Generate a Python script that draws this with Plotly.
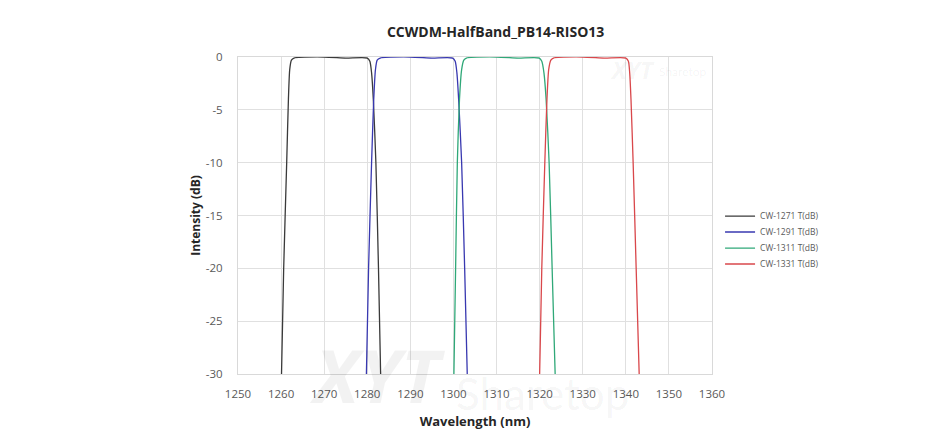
import plotly.graph_objects as go

# wavelength (nm) / transmission (dB)
names = ["CW-1271 T(dB)", "CW-1291 T(dB)", "CW-1311 T(dB)", "CW-1331 T(dB)"]
colors = ["#3a3a3a", "#3838b0", "#2fa878", "#d9474b"]

wl_1271 = [1260.1, 1260.6, 1261.3, 1261.7, 1262.0, 1262.4, 1263.0, 1270.0, 1275.0, 1280.0,
           1280.6, 1281.0, 1281.4, 1282.0, 1282.6, 1283.1]
db_1271 = [-30, -20, -10, -4, -1.2, -0.3, -0.1, 0, -0.1, -0.1, -0.4, -1.5, -4, -10, -20, -30]

wl_1291 = [1279.8, 1280.3, 1281.0, 1281.5, 1281.9, 1282.3, 1283.0, 1290.0, 1295.0, 1299.8,
           1300.4, 1300.8, 1301.2, 1301.9, 1302.6, 1303.2]
db_1291 = [-30, -20, -10, -4, -1.2, -0.3, -0.1, 0, -0.1, -0.1, -0.4, -1.5, -4, -10, -20, -30]

wl_1311 = [1300.1, 1300.5, 1300.9, 1301.4, 1301.9, 1302.4, 1303.0, 1310.0, 1315.0, 1319.9,
           1320.5, 1321.0, 1321.5, 1322.2, 1322.9, 1323.6]
db_1311 = [-30, -20, -10, -4, -1.2, -0.3, -0.1, 0, -0.1, -0.1, -0.4, -1.5, -4, -10, -20, -30]

wl_1331 = [1320.0, 1320.5, 1321.2, 1321.7, 1322.1, 1322.6, 1323.2, 1330.0, 1335.0, 1340.0,
           1340.6, 1340.9, 1341.2, 1341.7, 1342.4, 1343.1]
db_1331 = [-30, -20, -10, -4, -1.2, -0.3, -0.1, 0, -0.1, -0.1, -0.4, -1.5, -4, -10, -20, -30]

series = [(wl_1271, db_1271), (wl_1291, db_1291), (wl_1311, db_1311), (wl_1331, db_1331)]

y_ticks = [0, -5, -10, -15, -20, -25, -30]
y_labels = ["0", "-5", "-10", "-15", "-20", "-25", "-30"]
x_ticks = list(range(1250, 1361, 10))

# one legend per trace so the rows can sit as close as in the original
legend_ids = ["legend", "legend2", "legend3", "legend4"]
legend_y = [0.498, 0.448, 0.397, 0.347]

fig = go.Figure()
for (x, y), name, c, lg in zip(series, names, colors, legend_ids):
    fig.add_trace(go.Scatter(x=x, y=y, name=name, mode="lines", legend=lg,
                             line=dict(color=c, width=1.3, shape="spline", smoothing=0.6)))

legend_style = dict(x=1.017, xanchor="left", yanchor="middle",
                    font=dict(size=8.5, color="#595959"), bgcolor="rgba(0,0,0,0)")

# faint watermark text
wm = "rgba(0,0,0,0.05)"
fig.add_annotation(text="<b><i>XYT</i></b>", xref="paper", yref="paper", x=0.295, y=0.0,
                   xanchor="center", yanchor="middle", showarrow=False,
                   font=dict(size=74, color=wm, family="Open Sans"))
fig.add_annotation(text="Sharetop", xref="paper", yref="paper", x=0.455, y=-0.06,
                   xanchor="left", yanchor="middle", showarrow=False,
                   font=dict(size=44, color=wm, family="Lato"))
fig.add_annotation(text="<b><i>XYT</i></b>", xref="paper", yref="paper", x=0.833, y=0.959,
                   xanchor="center", yanchor="middle", showarrow=False,
                   font=dict(size=24, color=wm, family="Open Sans"))
fig.add_annotation(text="Sharetop", xref="paper", yref="paper", x=0.884, y=0.953,
                   xanchor="left", yanchor="middle", showarrow=False,
                   font=dict(size=12, color=wm, family="Lato"))

fig.update_layout(
    width=936, height=432,
    margin=dict(l=230, r=232, t=49, b=66),
    paper_bgcolor="white", plot_bgcolor="white",
    font=dict(family="Open Sans, Liberation Sans, sans-serif", color="#595959", size=11),
    title=dict(text="<b>CCWDM-HalfBand_PB14-RISO13</b>", xref="container", x=0.521,
               xanchor="center", y=0.944, yanchor="middle",
               font=dict(size=14, color="#262626")),
    showlegend=True,
)
fig.update_layout({lg: dict(legend_style, y=ly) for lg, ly in zip(legend_ids, legend_y)})

fig.update_xaxes(range=[1250, 1360], tickvals=x_ticks, showgrid=True, gridcolor="#e0e0e0",
                 showline=True, linecolor="#d9d9d9", mirror=True, zeroline=False,
                 ticks="", ticklabelstandoff=9, tickfont=dict(size=11.5),
                 title=dict(text="<b>Wavelength (nm)</b>", font=dict(size=13, color="#262626"),
                            standoff=17))
fig.update_yaxes(range=[-30, 0], tickvals=y_ticks, ticktext=y_labels, showgrid=True,
                 gridcolor="#e0e0e0", showline=True, linecolor="#d9d9d9", mirror=True,
                 zeroline=False, ticks="", ticklabelstandoff=12, tickfont=dict(size=11.5),
                 title=dict(text="<b>Intensity (dB)</b>",
                            font=dict(size=12, color="#262626"), standoff=2))

fig.write_html("out.html")
